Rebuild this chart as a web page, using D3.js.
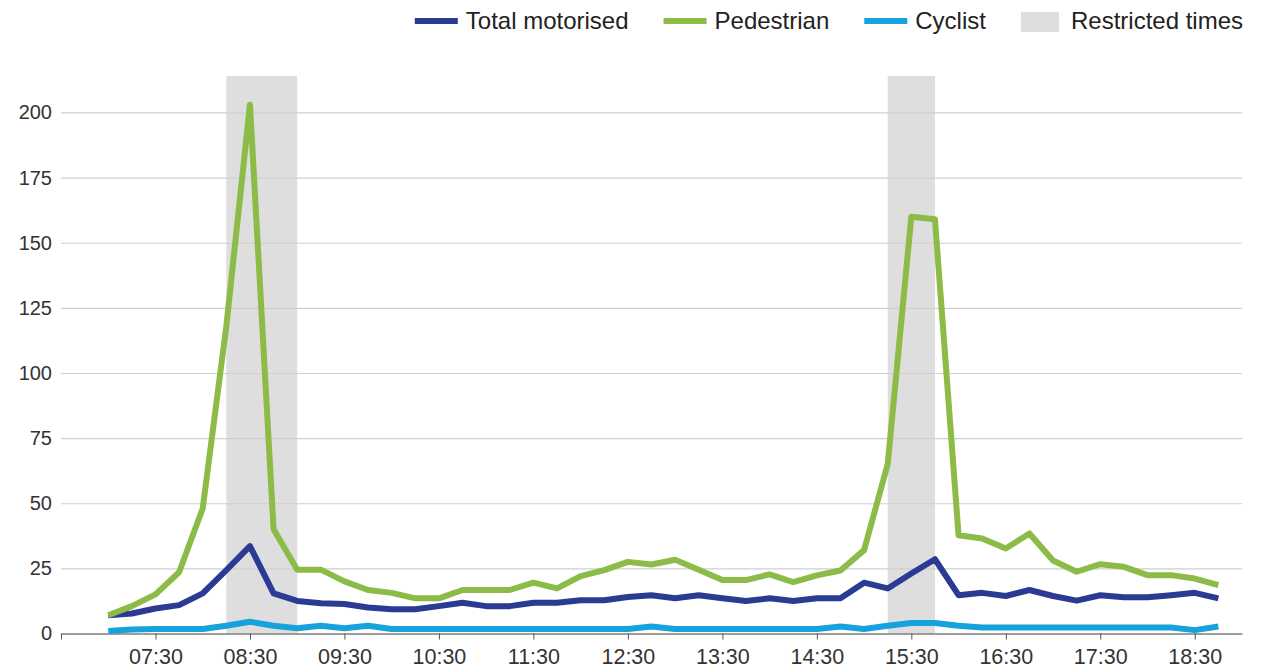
<!DOCTYPE html>
<html>
<head>
<meta charset="utf-8">
<script src="https://cdn.jsdelivr.net/npm/d3@7"></script>
<style>
  body { margin: 0; background: #fff; }
  svg { display: block; font-family: "Liberation Sans", Arial, sans-serif; }
</style>
</head>
<body>
<svg id="chart" width="1268" height="668"></svg>
<script>
// data, 15 minute counts
const times = ['07:00','07:15','07:30','07:45','08:00','08:15','08:30','08:45','09:00','09:15','09:30','09:45',
  '10:00','10:15','10:30','10:45','11:00','11:15','11:30','11:45','12:00','12:15','12:30','12:45',
  '13:00','13:15','13:30','13:45','14:00','14:15','14:30','14:45','15:00','15:15','15:30','15:45',
  '16:00','16:15','16:30','16:45','17:00','17:15','17:30','17:45','18:00','18:15','18:30','18:45'];
const motorised = [7,7.7,9.6,10.9,15.4,24.3,33.5,15.4,12.5,11.6,11.3,10,
  9.3,9.3,10.5,11.8,10.5,10.5,11.8,11.8,12.8,12.8,14,14.7,
  13.5,14.7,13.5,12.5,13.5,12.5,13.5,13.5,19.5,17.3,23,28.5,
  14.7,15.6,14.4,16.7,14.4,12.6,14.7,13.9,13.9,14.7,15.6,13.5];
const pedestrian = [7,10.5,15,23.5,48,118,203,40,24.5,24.5,20,16.7,
  15.6,13.5,13.5,16.7,16.7,16.7,19.5,17.3,22,24.3,27.5,26.5,
  28.3,24.5,20.5,20.5,22.7,19.7,22.3,24.2,32,65,160,159,
  37.7,36.5,32.6,38.4,28,23.7,26.6,25.6,22.4,22.4,21.1,18.6];
const cyclist = [1,1.5,1.7,1.7,1.7,3,4.5,3,2,3,2,3,
  1.7,1.7,1.7,1.7,1.7,1.7,1.7,1.7,1.7,1.7,1.7,2.7,
  1.7,1.7,1.7,1.7,1.7,1.7,1.7,2.7,1.7,3,4,4,
  3,2.3,2.3,2.3,2.3,2.3,2.3,2.3,2.3,2.3,1.3,2.7];
const restrictedStart = ['08:15','15:15'];
const restrictedEnd = ['09:00','15:45'];
const xTickLabels = ['07:30','08:30','09:30','10:30','11:30','12:30','13:30','14:30','15:30','16:30','17:30','18:30'];
const yTicks = [0,25,50,75,100,125,150,175,200];
const xStart = '06:30', xEnd = '19:00';
const yMax = 214;

const seriesNames = ['Total motorised','Pedestrian','Cyclist'];
const seriesValues = [motorised, pedestrian, cyclist];
const seriesColors = ['#2b3a93','#8cbb47','#16a2dd'];
const bandColor = '#dedede';

const toMin = t => { const p = t.split(':'); return +p[0] * 60 + +p[1]; };

const svg = d3.select('#chart');
const x = d3.scaleLinear().domain([toMin(xStart), toMin(xEnd)]).range([61, 1242]);
const y = d3.scaleLinear().domain([0, yMax]).range([633.5, 76]);

// restricted bands
svg.append('g').selectAll('rect')
  .data(restrictedStart.map((s, i) => [toMin(s), toMin(restrictedEnd[i])]))
  .enter().append('rect')
  .attr('x', d => x(d[0]))
  .attr('width', d => x(d[1]) - x(d[0]))
  .attr('y', y(yMax))
  .attr('height', y(0) - y(yMax))
  .attr('fill', bandColor);

// y axis + grid
const yAxis = svg.append('g')
  .attr('transform', 'translate(61,0)')
  .call(d3.axisLeft(y).tickValues(yTicks).tickSize(-(1242 - 61)).tickPadding(9));
yAxis.select('.domain').remove();
yAxis.selectAll('.tick line').attr('stroke', '#cfcfcf').attr('stroke-width', 1.2);
yAxis.selectAll('.tick text').attr('fill', '#333').style('font-size', '20px');

// x axis
const xAxis = svg.append('g')
  .attr('transform', 'translate(0,' + y(0) + ')')
  .call(d3.axisBottom(x)
    .tickValues([toMin(xStart)].concat(xTickLabels.map(toMin)))
    .tickFormat(d => d === toMin(xStart) ? '' : xTickLabels.find(t => toMin(t) === d))
    .tickSize(6).tickSizeOuter(0).tickPadding(9));
xAxis.select('.domain').attr('stroke', '#555');
xAxis.selectAll('.tick line').attr('stroke', '#555');
xAxis.selectAll('.tick text').attr('fill', '#333').style('font-size', '21.5px');

// lines
const line = d3.line()
  .x((d, i) => x(toMin(times[i])))
  .y(d => y(d));

svg.append('g').selectAll('path')
  .data(seriesValues)
  .enter().append('path')
  .attr('d', line)
  .attr('fill', 'none')
  .attr('stroke', (d, i) => seriesColors[i])
  .attr('stroke-width', 6)
  .attr('stroke-linejoin', 'round');

// legend, right aligned
const legendItems = seriesNames.map((n, i) => ({name: n, color: seriesColors[i], type: 'line'}))
  .concat([{name: 'Restricted times', color: bandColor, type: 'rect'}]);
const legend = svg.append('g');
const itemG = legend.selectAll('g').data(legendItems).enter().append('g');
itemG.append('text')
  .attr('y', 29)
  .attr('fill', '#222')
  .style('font-size', '24px')
  .text(d => d.name);
let widths = [];
itemG.select('text').each(function() { widths.push(this.getComputedTextLength()); });
let cx = 1243;
for (let i = legendItems.length - 1; i >= 0; i--) {
  const sw = legendItems[i].type === 'rect' ? 38 : 43;
  const gap = legendItems[i].type === 'rect' ? 12 : 8;
  const start = cx - widths[i] - gap - sw;
  legendItems[i].x = start;
  legendItems[i].sw = sw;
  legendItems[i].gap = gap;
  cx = start - 35;
}
itemG.attr('transform', d => 'translate(' + d.x + ',0)');
itemG.select('text').attr('x', d => d.sw + d.gap);
itemG.filter(d => d.type === 'line').append('rect')
  .attr('x', 0).attr('y', 18).attr('width', d => d.sw).attr('height', 6)
  .attr('fill', d => d.color);
itemG.filter(d => d.type === 'rect').append('rect')
  .attr('x', 0).attr('y', 12).attr('width', d => d.sw).attr('height', 20)
  .attr('fill', d => d.color);
</script>
</body>
</html>
